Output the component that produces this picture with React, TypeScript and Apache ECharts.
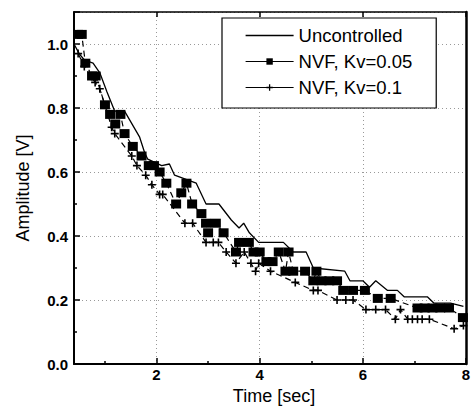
import React, { useEffect, useRef } from "react";
import * as echarts from "echarts";

const seriesNames = ["Uncontrolled", "NVF, Kv=0.05", "NVF, Kv=0.1"];

const tUnc = [0.4, 0.5, 0.6, 0.77, 0.9, 1.04, 1.19, 1.38, 1.67, 1.77, 1.83, 2.1, 2.25, 2.35, 2.77, 2.96, 3.21, 3.45, 3.6, 3.69, 3.8, 3.98, 4.46, 4.65, 4.9, 5.04, 5.65, 5.75, 6.0, 6.13, 6.25, 6.48, 6.67, 6.8, 7.25, 7.38, 7.7, 7.95];
const vUnc = [1.0, 0.97, 0.95, 0.94, 0.91, 0.85, 0.79, 0.79, 0.71, 0.66, 0.64, 0.62, 0.625, 0.59, 0.565, 0.5, 0.5, 0.45, 0.425, 0.44, 0.41, 0.38, 0.38, 0.35, 0.35, 0.3, 0.29, 0.26, 0.26, 0.24, 0.26, 0.23, 0.23, 0.21, 0.21, 0.19, 0.19, 0.18];

const tK05 = [0.48, 0.55, 0.62, 0.75, 0.82, 1.0, 1.1, 1.2, 1.3, 1.38, 1.54, 1.71, 1.85, 1.95, 2.06, 2.19, 2.38, 2.48, 2.58, 2.69, 2.87, 2.96, 3.0, 3.15, 3.3, 3.54, 3.6, 3.79, 3.88, 4.0, 4.13, 4.25, 4.37, 4.5, 4.56, 4.65, 4.88, 5.04, 5.1, 5.2, 5.35, 5.5, 5.62, 5.81, 6.04, 6.29, 6.54, 7.06, 7.2, 7.35, 7.5, 7.67, 7.94];
const vK05 = [1.03, 1.03, 0.94, 0.9, 0.9, 0.81, 0.78, 0.75, 0.78, 0.72, 0.68, 0.65, 0.62, 0.62, 0.6, 0.565, 0.5, 0.535, 0.565, 0.5, 0.47, 0.44, 0.41, 0.44, 0.41, 0.35, 0.38, 0.38, 0.35, 0.35, 0.32, 0.32, 0.35, 0.29, 0.35, 0.29, 0.29, 0.26, 0.29, 0.26, 0.26, 0.26, 0.23, 0.23, 0.23, 0.205, 0.205, 0.175, 0.175, 0.175, 0.175, 0.175, 0.145];

const tK10 = [0.48, 0.6, 0.81, 0.9, 1.13, 1.19, 1.52, 1.62, 1.79, 1.91, 2.06, 2.12, 2.55, 2.7, 2.96, 3.1, 3.2, 3.35, 3.54, 3.7, 3.83, 3.92, 3.98, 4.21, 4.69, 5.04, 5.13, 5.5, 5.67, 5.81, 6.06, 6.25, 6.44, 6.63, 6.73, 6.87, 6.96, 7.06, 7.15, 7.29, 7.77, 7.95];
const vK10 = [0.97, 0.93, 0.88, 0.86, 0.74, 0.72, 0.65, 0.62, 0.59, 0.56, 0.53, 0.53, 0.44, 0.44, 0.38, 0.38, 0.38, 0.35, 0.315, 0.35, 0.315, 0.29, 0.315, 0.29, 0.255, 0.23, 0.23, 0.2, 0.2, 0.2, 0.17, 0.17, 0.17, 0.14, 0.17, 0.14, 0.14, 0.14, 0.14, 0.14, 0.11, 0.12];

const xTickValues = [2, 4, 6, 8];
const xMinorTicks = [1, 3, 5, 7];

const FONT = "'Liberation Sans', Arial, sans-serif";
const PLUS = "path://M4,0H6V4H10V6H6V10H4V6H0V4H4Z";
const LINE_ICON = "path://M0,0H48V1.3H0Z";

const pairs = (t: number[], v: number[]) => t.map((x, i) => [x, v[i]]);

export default function App() {
  const ref = useRef<HTMLDivElement>(null);
  useEffect(() => {
    if (!ref.current) return;
    const chart = echarts.init(ref.current, null, { renderer: "svg" });
    const splitLine = { show: true, lineStyle: { color: "#999", type: [1, 3] as any, width: 1 } };
    chart.setOption({
      animation: false,
      backgroundColor: "#fff",
      textStyle: { fontFamily: FONT, color: "#000" },
      grid: { left: 74, right: 8, top: 12, bottom: 47, containLabel: false },
      legend: {
        orient: "vertical",
        left: 222,
        top: 18,
        backgroundColor: "#fff",
        borderColor: "#000",
        borderWidth: 1.2,
        borderRadius: 0,
        padding: [8, 24, 11, 23],
        itemGap: 7,
        itemWidth: 48,
        itemHeight: 8,
        symbolKeepAspect: true,
        lineStyle: { type: "solid", width: 1.2 },
        textStyle: { fontFamily: FONT, fontSize: 18.5, color: "#000", lineHeight: 18 },
        data: [{ name: seriesNames[0], icon: LINE_ICON }, seriesNames[1], seriesNames[2]],
      },
      xAxis: [
        {
          type: "value",
          min: 0.4,
          max: 8,
          splitNumber: 4,
          name: "Time [sec]",
          nameLocation: "middle",
          nameGap: 22,
          nameTextStyle: { fontFamily: FONT, fontSize: 18, color: "#000", padding: [0, 0, 0, 8] },
          axisLine: { show: true, onZero: false, lineStyle: { color: "#000", width: 2 } },
          axisTick: { show: true, inside: true, length: 6, lineStyle: { color: "#000", width: 1.5 } },
          axisLabel: {
            showMinLabel: false,
            margin: 3,
            fontFamily: FONT,
            fontSize: 15,
            fontWeight: "bold",
            color: "#000",
            formatter: (v: number) => (xTickValues.includes(Math.round(v * 100) / 100) ? String(v) : ""),
          },
          splitLine,
        },
        {
          type: "value",
          min: 0.4,
          max: 8,
          position: "bottom",
          axisLine: { show: false },
          axisTick: { show: true, inside: true, length: 3, customValues: xMinorTicks, lineStyle: { color: "#000", width: 1.5 } },
          axisLabel: { show: false },
          splitLine: { show: false },
        },
        {
          type: "value",
          min: 0.4,
          max: 8,
          splitNumber: 4,
          position: "top",
          axisLine: { show: true, onZero: false, lineStyle: { color: "#000", width: 1.5 } },
          axisTick: { show: true, inside: true, length: 5, lineStyle: { color: "#000", width: 1.5 } },
          axisLabel: { show: false },
          splitLine: { show: false },
        },
      ],
      yAxis: [
        {
          type: "value",
          min: 0,
          max: 1.1,
          interval: 0.2,
          name: "Amplitude [V]",
          nameLocation: "middle",
          nameGap: 42,
          nameTextStyle: { fontFamily: FONT, fontSize: 18, color: "#000" },
          axisLine: { show: true, onZero: false, lineStyle: { color: "#000", width: 2 } },
          axisTick: { show: true, inside: true, length: 6, lineStyle: { color: "#000", width: 1.5 } },
          minorTick: { show: true, splitNumber: 2, length: 3, lineStyle: { color: "#000", width: 1.5 } },
          axisLabel: {
            showMaxLabel: false,
            margin: 6,
            fontFamily: FONT,
            fontSize: 15,
            fontWeight: "bold",
            color: "#000",
            formatter: (v: number) => v.toFixed(1),
          },
          splitLine,
        },
        {
          type: "value",
          min: 0,
          max: 1.1,
          position: "right",
          axisLine: { show: true, onZero: false, lineStyle: { color: "#000", width: 2.5 } },
          axisTick: { show: false },
          axisLabel: { show: false },
          splitLine: { show: false },
        },
      ],
      series: [
        {
          name: seriesNames[0],
          type: "line",
          data: pairs(tUnc, vUnc),
          showSymbol: false,
          symbol: "none",
          lineStyle: { color: "#000", width: 1.3 },
          itemStyle: { color: "#000" },
        },
        {
          name: seriesNames[1],
          type: "line",
          data: pairs(tK05, vK05),
          symbol: "rect",
          symbolSize: [10, 9],
          lineStyle: { color: "#000", width: 1.2, type: [6, 4] as any },
          itemStyle: { color: "#000" },
        },
        {
          name: seriesNames[2],
          type: "line",
          data: pairs(tK10, vK10),
          symbol: PLUS,
          symbolSize: 8,
          lineStyle: { color: "#000", width: 1.2, type: [6, 4] as any },
          itemStyle: { color: "#000" },
        },
      ],
    });
    return () => chart.dispose();
  }, []);
  return <div ref={ref} style={{ position: "absolute", left: 0, top: 0, width: 474, height: 411 }} />;
}
